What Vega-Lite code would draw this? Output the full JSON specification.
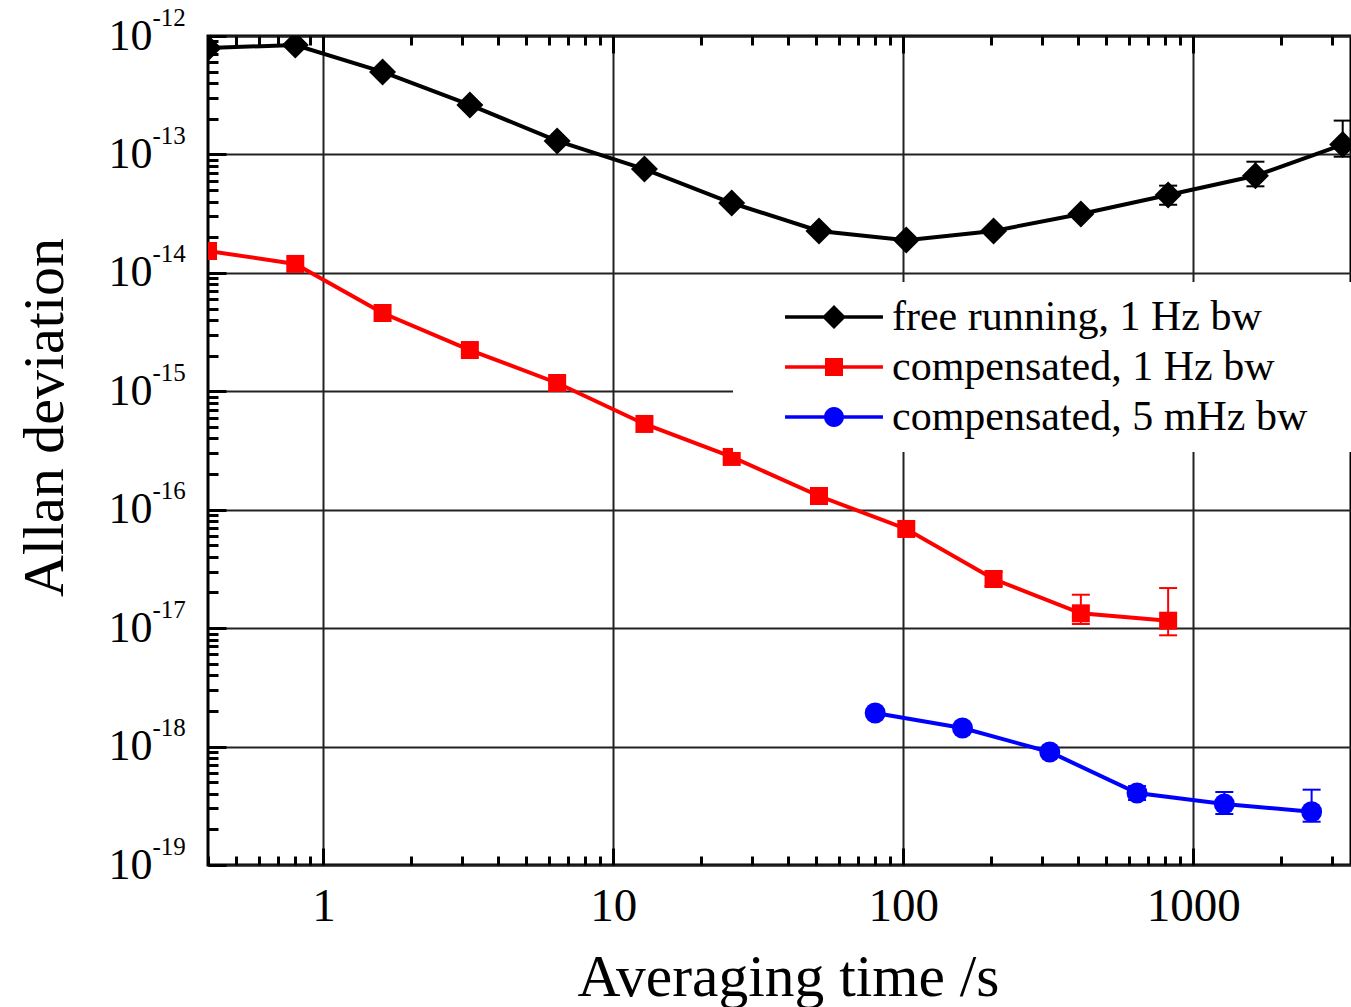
{
  "$schema": "https://vega.github.io/schema/vega-lite/v6.json",
  "width": 1143,
  "height": 829,
  "autosize": "none",
  "padding": {"left": 208, "top": 36, "right": 0, "bottom": 142},
  "background": "white",
  "config": {
    "font": "Liberation Serif",
    "view": {"stroke": "black", "strokeWidth": 3}
  },
  "data": {
    "values": [
      {"series": "free running, 1 Hz bw", "tau": 0.4, "adev": 7.92e-13},
      {"series": "free running, 1 Hz bw", "tau": 0.8, "adev": 8.39e-13},
      {"series": "free running, 1 Hz bw", "tau": 1.6, "adev": 4.97e-13},
      {"series": "free running, 1 Hz bw", "tau": 3.2, "adev": 2.62e-13},
      {"series": "free running, 1 Hz bw", "tau": 6.4, "adev": 1.30e-13},
      {"series": "free running, 1 Hz bw", "tau": 12.8, "adev": 7.53e-14},
      {"series": "free running, 1 Hz bw", "tau": 25.6, "adev": 3.89e-14},
      {"series": "free running, 1 Hz bw", "tau": 51.2, "adev": 2.26e-14},
      {"series": "free running, 1 Hz bw", "tau": 102.4, "adev": 1.89e-14},
      {"series": "free running, 1 Hz bw", "tau": 204.8, "adev": 2.26e-14},
      {"series": "free running, 1 Hz bw", "tau": 409.6, "adev": 3.14e-14},
      {"series": "free running, 1 Hz bw", "tau": 819.2, "adev": 4.55e-14, "lo": 3.76e-14, "hi": 5.45e-14},
      {"series": "free running, 1 Hz bw", "tau": 1638.4, "adev": 6.61e-14, "lo": 5.38e-14, "hi": 8.68e-14},
      {"series": "free running, 1 Hz bw", "tau": 3276.8, "adev": 1.21e-13, "lo": 9.57e-14, "hi": 1.93e-13},
      {"series": "compensated, 1 Hz bw", "tau": 0.4, "adev": 1.53e-14},
      {"series": "compensated, 1 Hz bw", "tau": 0.8, "adev": 1.19e-14},
      {"series": "compensated, 1 Hz bw", "tau": 1.6, "adev": 4.58e-15},
      {"series": "compensated, 1 Hz bw", "tau": 3.2, "adev": 2.23e-15},
      {"series": "compensated, 1 Hz bw", "tau": 6.4, "adev": 1.175e-15},
      {"series": "compensated, 1 Hz bw", "tau": 12.8, "adev": 5.30e-16},
      {"series": "compensated, 1 Hz bw", "tau": 25.6, "adev": 2.79e-16},
      {"series": "compensated, 1 Hz bw", "tau": 51.2, "adev": 1.305e-16},
      {"series": "compensated, 1 Hz bw", "tau": 102.4, "adev": 6.88e-17},
      {"series": "compensated, 1 Hz bw", "tau": 204.8, "adev": 2.60e-17, "lo": 2.27e-17, "hi": 2.98e-17},
      {"series": "compensated, 1 Hz bw", "tau": 409.6, "adev": 1.334e-17, "lo": 1.084e-17, "hi": 1.915e-17},
      {"series": "compensated, 1 Hz bw", "tau": 819.2, "adev": 1.156e-17, "lo": 8.70e-18, "hi": 2.18e-17},
      {"series": "compensated, 5 mHz bw", "tau": 80, "adev": 1.92e-18},
      {"series": "compensated, 5 mHz bw", "tau": 160, "adev": 1.435e-18},
      {"series": "compensated, 5 mHz bw", "tau": 320, "adev": 9.0e-19},
      {"series": "compensated, 5 mHz bw", "tau": 640, "adev": 4.055e-19, "lo": 3.54e-19, "hi": 4.64e-19},
      {"series": "compensated, 5 mHz bw", "tau": 1280, "adev": 3.275e-19, "lo": 2.696e-19, "hi": 4.13e-19},
      {"series": "compensated, 5 mHz bw", "tau": 2560, "adev": 2.818e-19, "lo": 2.32e-19, "hi": 4.325e-19}
    ]
  },
  "resolve": {"axis": {"x": "independent", "y": "independent"}},
  "layer": [
    {
      "transform": [{"filter": "false"}],
      "mark": {"type": "point", "filled": true, "opacity": 1},
      "encoding": {
        "x": {
          "field": "tau", "type": "quantitative",
          "axis": {
            "orient": "top",
            "values": [0.4,0.5,0.6,0.7,0.8,0.9,1,2,3,4,5,6,7,8,9,10,20,30,40,50,60,70,80,90,100,200,300,400,500,600,700,800,900,1000,2000,3000],
            "labels": false, "grid": false, "domain": false, "title": null,
            "tickSize": -17, "tickWidth": 3, "tickColor": "black",
            "tickDash": {"condition": {"test": "abs(log(datum.value)/LN10 - round(log(datum.value)/LN10)) < 0.001", "value": [40, 0]}, "value": [9, 200]}
          }
        },
        "y": {
          "field": "adev", "type": "quantitative",
          "axis": {
            "orient": "left",
            "values": [1e-19, 1e-18, 1e-17, 1e-16, 1e-15, 1e-14, 1e-13, 1e-12],
            "labelExpr": "toString(round(log(datum.value)/LN10))",
            "labelFont": "Liberation Serif", "labelFontSize": 25, "labelColor": "black",
            "labelAlign": "left", "labelPadding": 56, "labelOffset": -19,
            "labelOverlap": false, "labelFlush": false,
            "ticks": false, "tickSize": 0, "grid": false, "domain": false, "title": null
          }
        },
        "color": {
          "field": "series", "type": "nominal",
          "scale": {"domain": ["free running, 1 Hz bw", "compensated, 1 Hz bw", "compensated, 5 mHz bw"], "range": ["#000000", "#ff0000", "#0000ff"]},
          "legend": {
            "orient": "none", "legendX": 525, "legendY": 246, "title": null,
            "labelFont": "Liberation Serif", "labelFontSize": 42, "labelColor": "black", "labelLimit": 3000,
            "symbolSize": 576, "symbolOffset": 66, "labelOffset": 37, "padding": 14, "rowPadding": 8,
            "fillColor": "white", "strokeColor": null, "symbolStrokeWidth": 0
          }
        },
        "shape": {
          "field": "series", "type": "nominal",
          "scale": {
            "domain": ["free running, 1 Hz bw", "compensated, 1 Hz bw", "compensated, 5 mHz bw"],
            "range": [
              "M-4.08,-0.14H4.08V0.14H-4.08Z M0,-1L1,0L0,1L-1,0Z M44,0",
              "M-4.08,-0.14H4.08V0.14H-4.08Z M-0.75,-0.75H0.75V0.75H-0.75Z M44,0",
              "M-4.08,-0.14H4.08V0.14H-4.08Z M-0.83,0A0.83,0.83,0,1,1,0.83,0A0.83,0.83,0,1,1,-0.83,0Z M44,0"
            ]
          },
          "legend": {
            "orient": "none", "legendX": 525, "legendY": 246, "title": null,
            "labelFont": "Liberation Serif", "labelFontSize": 42, "labelColor": "black", "labelLimit": 3000,
            "symbolSize": 576, "symbolOffset": 66, "labelOffset": 37, "padding": 14, "rowPadding": 8,
            "fillColor": "white", "strokeColor": null, "symbolStrokeWidth": 0
          }
        }
      }
    },
    {
      "mark": {"type": "line", "strokeWidth": 4, "clip": true},
      "encoding": {
        "x": {
          "field": "tau", "type": "quantitative",
          "scale": {"type": "log", "domain": [0.4, 3500], "nice": false},
          "axis": {
            "orient": "bottom",
            "values": [0.4,0.5,0.6,0.7,0.8,0.9,1,2,3,4,5,6,7,8,9,10,20,30,40,50,60,70,80,90,100,200,300,400,500,600,700,800,900,1000,2000,3000],
            "labelExpr": "abs(log(datum.value)/LN10 - round(log(datum.value)/LN10)) < 0.001 ? format(datum.value, 'd') : ''",
            "labelFont": "Liberation Serif", "labelFontSize": 47, "labelColor": "black",
            "labelPadding": 35, "labelOverlap": false, "labelFlush": false,
            "tickSize": -17, "tickWidth": 3, "tickColor": "black",
            "tickDash": {"condition": {"test": "abs(log(datum.value)/LN10 - round(log(datum.value)/LN10)) < 0.001", "value": [40, 0]}, "value": [9, 200]},
            "grid": true, "gridColor": "#222222", "gridWidth": 2,
            "gridOpacity": {"condition": {"test": "abs(log(datum.value)/LN10 - round(log(datum.value)/LN10)) < 0.001", "value": 1}, "value": 0},
            "domain": false,
            "title": "Averaging time /s",
            "titleFont": "Liberation Serif", "titleFontSize": 59.5, "titleFontWeight": "normal", "titleColor": "black",
            "titleX": 580, "titleY": 130, "titleBaseline": "alphabetic", "titleAlign": "center", "titleAngle": 0
          }
        },
        "y": {
          "field": "adev", "type": "quantitative",
          "scale": {"type": "log", "domain": [1e-19, 1e-12], "nice": false},
          "axis": {
            "orient": "left",
            "values": [1e-19,2e-19,3e-19,4e-19,5e-19,6e-19,7e-19,8e-19,9e-19,1e-18,2e-18,3e-18,4e-18,5e-18,6e-18,7e-18,8e-18,9e-18,1e-17,2e-17,3e-17,4e-17,5e-17,6e-17,7e-17,8e-17,9e-17,1e-16,2e-16,3e-16,4e-16,5e-16,6e-16,7e-16,8e-16,9e-16,1e-15,2e-15,3e-15,4e-15,5e-15,6e-15,7e-15,8e-15,9e-15,1e-14,2e-14,3e-14,4e-14,5e-14,6e-14,7e-14,8e-14,9e-14,1e-13,2e-13,3e-13,4e-13,5e-13,6e-13,7e-13,8e-13,9e-13,1e-12],
            "labelExpr": "abs(log(datum.value)/LN10 - round(log(datum.value)/LN10)) < 0.001 ? '10' : ''",
            "labelFont": "Liberation Serif", "labelFontSize": 44, "labelColor": "black",
            "labelPadding": 74, "labelOverlap": false, "labelFlush": false,
            "tickSize": -18, "tickWidth": 3, "tickColor": "black",
            "tickDash": {"condition": {"test": "abs(log(datum.value)/LN10 - round(log(datum.value)/LN10)) < 0.001", "value": [40, 0]}, "value": [10, 200]},
            "grid": true, "gridColor": "#222222", "gridWidth": 2,
            "gridOpacity": {"condition": {"test": "abs(log(datum.value)/LN10 - round(log(datum.value)/LN10)) < 0.001", "value": 1}, "value": 0},
            "domain": false,
            "title": "Allan deviation",
            "titleFont": "Liberation Serif", "titleFontSize": 58, "titleFontWeight": "normal", "titleColor": "black",
            "titleX": -146, "titleY": 381, "titleBaseline": "alphabetic", "titleAlign": "center", "titleAngle": 270
          }
        },
        "color": {"field": "series", "type": "nominal"}
      }
    },
    {
      "transform": [{"filter": "isValid(datum.lo)"}],
      "mark": {"type": "rule", "strokeWidth": 2, "clip": true},
      "encoding": {
        "x": {"field": "tau", "type": "quantitative", "axis": null},
        "y": {"field": "lo", "type": "quantitative", "axis": null},
        "y2": {"field": "hi"},
        "color": {"field": "series", "type": "nominal"}
      }
    },
    {
      "transform": [{"filter": "isValid(datum.lo)"}],
      "mark": {"type": "tick", "orient": "horizontal", "size": 18, "thickness": 2, "opacity": 1, "clip": true},
      "encoding": {
        "x": {"field": "tau", "type": "quantitative", "axis": null},
        "y": {"field": "lo", "type": "quantitative", "axis": null},
        "color": {"field": "series", "type": "nominal"}
      }
    },
    {
      "transform": [{"filter": "isValid(datum.hi)"}],
      "mark": {"type": "tick", "orient": "horizontal", "size": 18, "thickness": 2, "opacity": 1, "clip": true},
      "encoding": {
        "x": {"field": "tau", "type": "quantitative", "axis": null},
        "y": {"field": "hi", "type": "quantitative", "axis": null},
        "color": {"field": "series", "type": "nominal"}
      }
    },
    {
      "transform": [{"filter": "datum.series == 'free running, 1 Hz bw'"}],
      "mark": {"type": "point", "shape": "diamond", "filled": true, "opacity": 1, "size": 729, "strokeWidth": 0, "clip": true},
      "encoding": {
        "x": {"field": "tau", "type": "quantitative", "axis": null},
        "y": {"field": "adev", "type": "quantitative", "axis": null},
        "color": {"field": "series", "type": "nominal"}
      }
    },
    {
      "transform": [{"filter": "datum.series == 'compensated, 1 Hz bw'"}],
      "mark": {"type": "point", "shape": "square", "filled": true, "opacity": 1, "size": 324, "strokeWidth": 0, "clip": true},
      "encoding": {
        "x": {"field": "tau", "type": "quantitative", "axis": null},
        "y": {"field": "adev", "type": "quantitative", "axis": null},
        "color": {"field": "series", "type": "nominal"}
      }
    },
    {
      "transform": [{"filter": "datum.series == 'compensated, 5 mHz bw'"}],
      "mark": {"type": "point", "shape": "circle", "filled": true, "opacity": 1, "size": 441, "strokeWidth": 0, "clip": true},
      "encoding": {
        "x": {"field": "tau", "type": "quantitative", "axis": null},
        "y": {"field": "adev", "type": "quantitative", "axis": null},
        "color": {"field": "series", "type": "nominal"}
      }
    }
  ]
}
